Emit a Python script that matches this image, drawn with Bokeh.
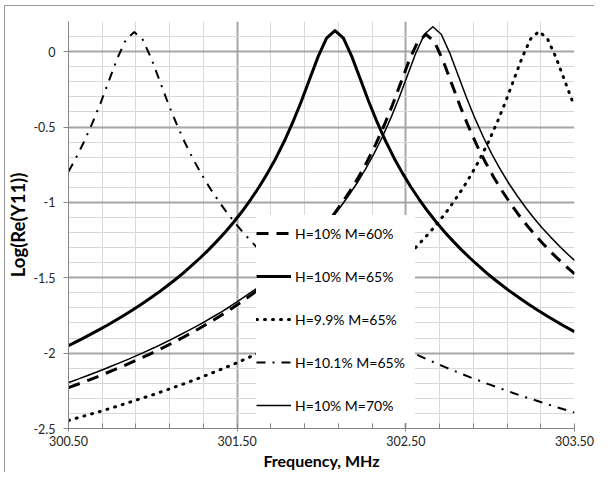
from bokeh.plotting import figure
from bokeh.models import (FixedTicker, CustomJSTickFormatter, NumeralTickFormatter,
                          Legend, LegendItem, Range1d, InlineStyleSheet)
from bokeh.embed import file_html
from bokeh.resources import INLINE

labels = ["H=10% M=60%", "H=10% M=65%", "H=9.9% M=65%", "H=10.1% M=65%", "H=10% M=70%"]

# H=10% M=60%
freq_m60 = [300.50, 300.52, 300.57, 300.62, 300.67, 300.72, 300.77, 300.82, 300.87, 300.92, 300.97,
            301.02, 301.07, 301.12, 301.17, 301.22, 301.27, 301.32, 301.37, 301.42, 301.47,
            301.52, 301.57, 301.62, 301.67, 301.72, 301.77, 301.82, 301.87, 301.92, 301.97,
            302.02, 302.07, 302.12, 302.17, 302.22, 302.27, 302.32, 302.37, 302.42, 302.47,
            302.52, 302.57, 302.62, 302.67, 302.72, 302.77, 302.82, 302.87, 302.92, 302.97,
            303.02, 303.07, 303.12, 303.17, 303.22, 303.27, 303.32, 303.37, 303.42, 303.47, 303.50]
y_m60 = [-2.229, -2.221, -2.200, -2.179, -2.157, -2.134, -2.111, -2.088, -2.063, -2.038, -2.013,
         -1.986, -1.959, -1.930, -1.901, -1.871, -1.840, -1.807, -1.774, -1.739, -1.702,
         -1.664, -1.625, -1.583, -1.540, -1.494, -1.445, -1.394, -1.340, -1.282, -1.221,
         -1.155, -1.084, -1.006, -0.923, -0.831, -0.730, -0.618, -0.493, -0.356, -0.207,
         -0.058, 0.065, 0.115, 0.065, -0.058, -0.207, -0.356, -0.493, -0.618, -0.730,
         -0.831, -0.923, -1.006, -1.084, -1.155, -1.221, -1.282, -1.340, -1.394, -1.445, -1.474]

# H=10% M=65%
freq_m65 = [300.50, 300.53, 300.58, 300.63, 300.68, 300.73, 300.78, 300.83, 300.88, 300.93, 300.98,
            301.03, 301.08, 301.13, 301.18, 301.23, 301.28, 301.33, 301.38, 301.43, 301.48,
            301.53, 301.58, 301.63, 301.68, 301.73, 301.78, 301.83, 301.88, 301.93, 301.98,
            302.03, 302.08, 302.13, 302.18, 302.23, 302.28, 302.33, 302.38, 302.43, 302.48,
            302.53, 302.58, 302.63, 302.68, 302.73, 302.78, 302.83, 302.88, 302.93, 302.98,
            303.03, 303.08, 303.13, 303.18, 303.23, 303.28, 303.33, 303.38, 303.43, 303.48, 303.50]
y_m65 = [-1.950, -1.934, -1.905, -1.876, -1.846, -1.815, -1.782, -1.749, -1.714, -1.677, -1.639,
         -1.600, -1.558, -1.515, -1.469, -1.420, -1.369, -1.315, -1.257, -1.196, -1.130,
         -1.059, -0.981, -0.898, -0.806, -0.705, -0.593, -0.468, -0.331, -0.182, -0.033,
         0.090, 0.140, 0.090, -0.033, -0.182, -0.331, -0.468, -0.593, -0.705, -0.806,
         -0.898, -0.981, -1.059, -1.130, -1.196, -1.257, -1.315, -1.369, -1.420, -1.469,
         -1.515, -1.558, -1.600, -1.639, -1.677, -1.714, -1.749, -1.782, -1.815, -1.846, -1.858]

# shared frequencies of H=9.9% and H=10.1% (M=65%)
freq_h99_h101 = [300.50, 300.54, 300.59, 300.64, 300.69, 300.74, 300.79, 300.84, 300.89, 300.94, 300.99,
                 301.04, 301.09, 301.14, 301.19, 301.24, 301.29, 301.34, 301.39, 301.44, 301.49,
                 301.54, 301.59, 301.64, 301.69, 301.74, 301.79, 301.84, 301.89, 301.94, 301.99,
                 302.04, 302.09, 302.14, 302.19, 302.24, 302.29, 302.34, 302.39, 302.44, 302.49,
                 302.54, 302.59, 302.64, 302.69, 302.74, 302.79, 302.84, 302.89, 302.94, 302.99,
                 303.04, 303.09, 303.14, 303.19, 303.24, 303.29, 303.34, 303.39, 303.44, 303.49, 303.50]
# H=9.9% M=65%
y_h99 = [-2.447, -2.434, -2.418, -2.402, -2.386, -2.369, -2.352, -2.334, -2.316, -2.298, -2.280,
         -2.261, -2.241, -2.221, -2.201, -2.180, -2.159, -2.137, -2.114, -2.091, -2.068,
         -2.043, -2.018, -1.993, -1.966, -1.939, -1.910, -1.881, -1.851, -1.820, -1.787,
         -1.754, -1.719, -1.682, -1.644, -1.605, -1.563, -1.520, -1.474, -1.425, -1.374,
         -1.320, -1.262, -1.201, -1.135, -1.064, -0.986, -0.903, -0.811, -0.710, -0.598,
         -0.473, -0.336, -0.187, -0.038, 0.085, 0.135, 0.085, -0.038, -0.187, -0.336, -0.364]
# H=10.1% M=65%
y_h101 = [-0.796, -0.715, -0.603, -0.478, -0.341, -0.192, -0.043, 0.080, 0.130, 0.080, -0.043,
          -0.192, -0.341, -0.478, -0.603, -0.715, -0.816, -0.908, -0.991, -1.069, -1.140,
          -1.206, -1.267, -1.325, -1.379, -1.430, -1.479, -1.525, -1.568, -1.610, -1.649,
          -1.687, -1.724, -1.759, -1.792, -1.825, -1.856, -1.886, -1.915, -1.944, -1.971,
          -1.998, -2.023, -2.048, -2.073, -2.096, -2.119, -2.142, -2.164, -2.185, -2.206,
          -2.226, -2.246, -2.266, -2.285, -2.303, -2.321, -2.339, -2.357, -2.374, -2.391, -2.394]

# H=10% M=70%
freq_m70 = [300.50, 300.51, 300.56, 300.61, 300.66, 300.71, 300.76, 300.81, 300.86, 300.91, 300.96,
            301.01, 301.06, 301.11, 301.16, 301.21, 301.26, 301.31, 301.36, 301.41, 301.46,
            301.51, 301.56, 301.61, 301.66, 301.71, 301.76, 301.81, 301.86, 301.91, 301.96,
            302.01, 302.06, 302.11, 302.16, 302.21, 302.26, 302.31, 302.36, 302.41, 302.46,
            302.51, 302.56, 302.61, 302.66, 302.71, 302.76, 302.81, 302.86, 302.91, 302.96,
            303.01, 303.06, 303.11, 303.16, 303.21, 303.26, 303.31, 303.36, 303.41, 303.46, 303.50]
y_m70 = [-2.195, -2.191, -2.171, -2.150, -2.129, -2.107, -2.084, -2.061, -2.038, -2.013, -1.988,
         -1.963, -1.936, -1.909, -1.880, -1.851, -1.821, -1.790, -1.757, -1.724, -1.689,
         -1.652, -1.614, -1.575, -1.533, -1.490, -1.444, -1.395, -1.344, -1.290, -1.232,
         -1.171, -1.105, -1.034, -0.956, -0.873, -0.781, -0.680, -0.568, -0.443, -0.306,
         -0.157, -0.008, 0.115, 0.165, 0.115, -0.008, -0.157, -0.306, -0.443, -0.568,
         -0.680, -0.781, -0.873, -0.956, -1.034, -1.105, -1.171, -1.232, -1.290, -1.344, -1.385]

x_ticks = [300.5, 301.5, 302.5, 303.5]
x_minor = [300.7, 300.9, 301.1, 301.3, 301.7, 301.9, 302.1, 302.3, 302.7, 302.9, 303.1, 303.3]
y_ticks = [-2.5, -2.0, -1.5, -1.0, -0.5, 0.0]
y_minor = [-2.4, -2.3, -2.2, -2.1, -1.9, -1.8, -1.7, -1.6, -1.4, -1.3, -1.2, -1.1,
           -0.9, -0.8, -0.7, -0.6, -0.4, -0.3, -0.2, -0.1, 0.1, 0.2]

FONT = "Lato"
AXIS_GRAY = "#868686"

# thin chart-area border along the top and left edges (as in the spreadsheet chart)
chart_border = InlineStyleSheet(css="""
:host { position: relative; }
:host::after {
  content: ""; position: absolute; left: 4px; top: 5px; right: 0; bottom: 0;
  border-top: 1px solid #9a9a9a; border-left: 1px solid #9a9a9a;
  pointer-events: none;
}
""")

p = figure(width=594, height=472, output_backend="svg", toolbar_location=None,
           x_range=Range1d(300.5, 303.5), y_range=Range1d(-2.5, 0.2),
           min_border_left=68, min_border_right=20, min_border_top=21, min_border_bottom=43,
           stylesheets=[chart_border])
p.outline_line_color = None
p.background_fill_color = "white"
p.border_fill_color = "white"

xt = FixedTicker(ticks=x_ticks, minor_ticks=x_minor)
yt = FixedTicker(ticks=y_ticks, minor_ticks=y_minor)
p.xaxis.ticker = xt
p.yaxis.ticker = yt
p.xgrid.ticker = xt
p.ygrid.ticker = yt
for g in (p.xgrid, p.ygrid):
    g.grid_line_color = "#a6a6a6"
    g.grid_line_width = 2
    g.minor_grid_line_color = "#d9d9d9"
    g.minor_grid_line_width = 1

p.xaxis.formatter = NumeralTickFormatter(format="0.00")
p.yaxis.formatter = CustomJSTickFormatter(code="return tick.toString();")

for ax in (p.xaxis, p.yaxis):
    ax.axis_line_color = AXIS_GRAY
    ax.major_tick_line_color = AXIS_GRAY
    ax.minor_tick_line_color = AXIS_GRAY
    ax.major_label_text_font = FONT
    ax.major_label_text_font_size = "12.5px"
    ax.major_label_text_color = "#262626"
    ax.axis_label_text_font = FONT
    ax.axis_label_text_font_style = "bold"
    ax.axis_label_text_color = "#000000"

p.xaxis.major_tick_in = 5
p.xaxis.major_tick_out = 3
p.xaxis.minor_tick_in = 5
p.xaxis.minor_tick_out = 0
p.xaxis.major_label_standoff = 4
p.xaxis.axis_label = "Frequency, MHz"
p.xaxis.axis_label_text_font_size = "16px"
p.xaxis.axis_label_standoff = 2

p.yaxis.major_tick_in = 0
p.yaxis.major_tick_out = 5
p.yaxis.minor_tick_line_color = None
p.yaxis.major_label_standoff = 8
p.yaxis.axis_label = "Log(Re(Y11))"
p.yaxis.axis_label_text_font_size = "18.5px"
p.yaxis.axis_label_standoff = 1

r60 = p.line(freq_m60, y_m60, line_color="black", line_width=3, line_dash="12 8")
r65 = p.line(freq_m65, y_m65, line_color="black", line_width=3, line_join="round")
r99 = p.line(freq_h99_h101, y_h99, line_color="black", line_width=3, line_dash="1 7",
             line_cap="round")
r101 = p.line(freq_h99_h101, y_h101, line_color="black", line_width=2, line_dash="9 7 2 7")
r70 = p.line(freq_m70, y_m70, line_color="black", line_width=1.5, line_join="round")

renderers = [r60, r65, r99, r101, r70]
legend = Legend(items=[LegendItem(label=lab, renderers=[r]) for lab, r in zip(labels, renderers)],
                location=(188, 5))
legend.background_fill_color = "white"
legend.background_fill_alpha = 1.0
legend.border_line_color = None
legend.padding = 3
legend.margin = 0
legend.spacing = 7
legend.label_height = 36
legend.glyph_height = 36
legend.glyph_width = 35
legend.label_standoff = 4
legend.label_width = 120
legend.label_text_font = FONT
legend.label_text_font_size = "14px"
legend.label_text_color = "#000000"
p.add_layout(legend)

open("out.html", "w").write(file_html(p, INLINE))
